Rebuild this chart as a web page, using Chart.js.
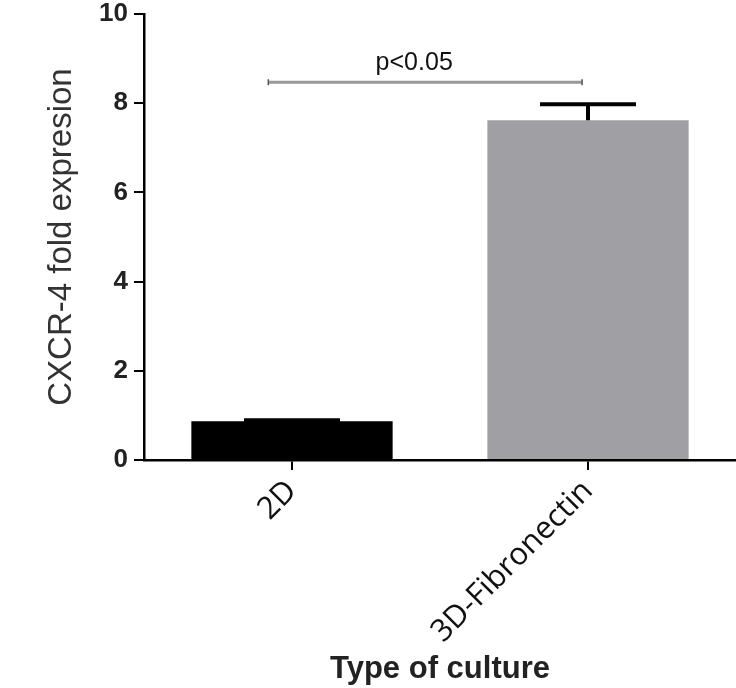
<!DOCTYPE html>
<html>
<head>
<meta charset="utf-8">
<script src="https://cdn.jsdelivr.net/npm/chart.js@4"></script>
<style>
  html, body { margin: 0; padding: 0; background: #fff; }
  #wrap { width: 736px; height: 688px; }
</style>
</head>
<body>
<div id="wrap"><canvas id="grafico" width="736" height="688"></canvas></div>
<script>
// dados
const categorias = ["2D", "3D-Fibronectin"];
const valores = [0.87, 7.62];
const erros = [0.02, 0.36];
const coresBarras = ["#000000", "#a09fa4"];
const ticksY = [0, 2, 4, 6, 8, 10];

// linha de significancia (em unidades de categoria / eixo y)
const sigInicio = [-0.08];
const sigFim = [0.98];
const sigNivel = [8.47];
const sigTexto = ["p<0.05"];

// barras de erro (so para cima) + marca de significancia
const extras = {
  id: "extras",
  afterDatasetsDraw(chart) {
    const ctx = chart.ctx;
    const x = chart.scales.x;
    const y = chart.scales.y;
    const meta = chart.getDatasetMeta(0);

    ctx.save();
    ctx.strokeStyle = "#000";
    ctx.lineWidth = 4;
    meta.data.forEach((bar, i) => {
      const cx = bar.x;
      const yTopo = y.getPixelForValue(valores[i] + erros[i]);
      const yBase = y.getPixelForValue(valores[i]);
      ctx.beginPath();
      ctx.moveTo(cx, yBase);
      ctx.lineTo(cx, yTopo);
      ctx.moveTo(cx - 48, yTopo);
      ctx.lineTo(cx + 48, yTopo);
      ctx.stroke();
    });

    // significancia
    const x1 = x.getPixelForValue(sigInicio[0]);
    const x2 = x.getPixelForValue(sigFim[0]);
    const yl = y.getPixelForValue(sigNivel[0]);
    ctx.strokeStyle = "#999999";
    ctx.lineWidth = 3;
    ctx.beginPath();
    ctx.moveTo(x1, yl);
    ctx.lineTo(x2, yl);
    ctx.stroke();
    ctx.strokeStyle = "#555";
    ctx.lineWidth = 1.5;
    ctx.beginPath();
    ctx.moveTo(x1, yl - 3); ctx.lineTo(x1, yl + 3);
    ctx.moveTo(x2, yl - 3); ctx.lineTo(x2, yl + 3);
    ctx.stroke();

    ctx.fillStyle = "#111";
    ctx.font = "25px 'Liberation Sans', Arial, sans-serif";
    ctx.textAlign = "center";
    ctx.textBaseline = "alphabetic";
    ctx.fillText(sigTexto[0], (x1 + x2) / 2 - 11, yl - 12);
    ctx.restore();
  }
};

new Chart(document.getElementById("grafico"), {
  type: "bar",
  data: {
    labels: categorias,
    datasets: [{
      data: valores,
      backgroundColor: coresBarras,
      borderWidth: 0,
      barPercentage: 0.68,
      categoryPercentage: 1
    }]
  },
  options: {
    responsive: false,
    animation: false,
    layout: { padding: { top: 0, right: 0, bottom: 0, left: 0 } },
    plugins: {
      legend: { display: false },
      tooltip: { enabled: false }
    },
    scales: {
      x: {
        afterFit(scale) { scale.height = 228; },
        grid: {
          offset: false,
          drawOnChartArea: false,
          drawTicks: true,
          tickLength: 10,
          color: "#000",
          lineWidth: 2
        },
        border: { display: true, color: "#000", width: 2.5 },
        ticks: {
          minRotation: 45,
          maxRotation: 45,
          padding: 3,
          color: "#111",
          font: { family: "'Open Sans', sans-serif", size: 31 }
        },
        title: {
          display: true,
          text: "Type of culture",
          color: "#222",
          padding: { top: 0, bottom: 0 },
          font: { family: "'Liberation Sans', Arial, sans-serif", size: 31, weight: "bold", lineHeight: 1.2 }
        }
      },
      y: {
        min: 0,
        max: 10,
        afterFit(scale) { scale.width = 144; },
        afterBuildTicks(scale) { scale.ticks = ticksY.map(v => ({ value: v })); },
        grid: {
          drawOnChartArea: false,
          drawTicks: true,
          tickLength: 10,
          color: "#000",
          lineWidth: 2
        },
        border: { display: true, color: "#000", width: 2.5 },
        ticks: {
          padding: 6,
          color: "#222",
          font: { family: "'Liberation Sans', Arial, sans-serif", size: 26, weight: "bold", lineHeight: 0.62 }
        },
        title: {
          display: true,
          text: "CXCR-4 fold expresion",
          color: "#333",
          padding: { top: 42, bottom: 0 },
          font: { family: "'Liberation Sans', Arial, sans-serif", size: 33, lineHeight: 1.2 }
        }
      }
    }
  },
  plugins: [extras]
});
</script>
</body>
</html>
